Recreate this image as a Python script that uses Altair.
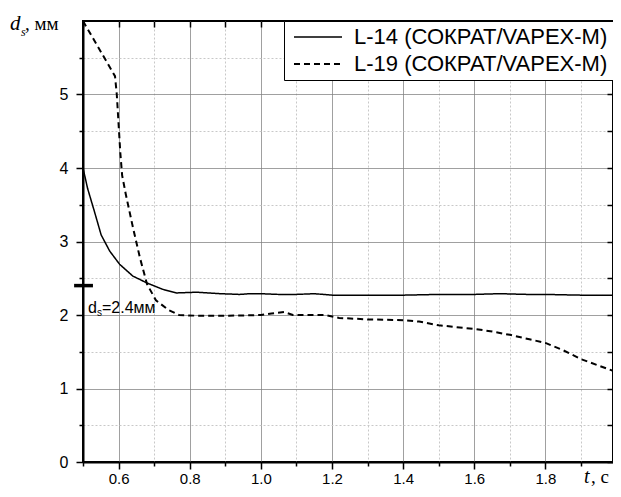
import altair as alt
import pandas as pd

# ---------------- data ----------------
series_names = ["L-14 (СОКРАТ/VAPEX-M)", "L-19 (СОКРАТ/VAPEX-M)"]

t_l14 = [0.5, 0.513, 0.532, 0.551, 0.575, 0.603, 0.64, 0.678, 0.724, 0.763,
         0.82, 0.885, 0.94, 0.97, 1.0, 1.05, 1.1, 1.15, 1.2, 1.3,
         1.4, 1.5, 1.6, 1.67, 1.75, 1.8, 1.9, 1.99]
ds_l14 = [4.0, 3.72, 3.41, 3.09, 2.87, 2.69, 2.53, 2.44, 2.35, 2.30,
          2.31, 2.29, 2.28, 2.29, 2.29, 2.28, 2.28, 2.29, 2.27, 2.27,
          2.27, 2.28, 2.28, 2.29, 2.28, 2.28, 2.27, 2.27]

t_l19 = [0.5, 0.59, 0.595, 0.6, 0.605, 0.61, 0.62, 0.64, 0.66, 0.68,
         0.705, 0.74, 0.77, 0.82, 0.91, 1.0, 1.03, 1.065, 1.09, 1.18,
         1.22, 1.3, 1.4, 1.445, 1.5, 1.6, 1.645, 1.7, 1.755, 1.8,
         1.85, 1.9, 1.99]
ds_l19 = [6.0, 5.25, 5.0, 4.6, 4.2, 3.9, 3.65, 3.2, 2.78, 2.42,
          2.2, 2.07, 2.0, 1.99, 1.99, 2.0, 2.02, 2.04, 2.0, 2.0,
          1.96, 1.94, 1.93, 1.91, 1.86, 1.81, 1.78, 1.73, 1.67, 1.62,
          1.52, 1.40, 1.24]

x_ticks = [0.5, 0.6, 0.7, 0.8, 0.9, 1.0, 1.1, 1.2, 1.3, 1.4, 1.5, 1.6, 1.7, 1.8, 1.9]
y_ticks = [0, 0.5, 1, 1.5, 2, 2.5, 3, 3.5, 4, 4.5, 5, 5.5]
x_domain = [0.5, 1.99]
y_domain = [0, 6]

marker_ds = [2.4]
marker_t_from = [0.475]
marker_t_to = [0.528]
marker_label_t = [0.514]
marker_label_ds = [2.1]

# ---------------- tables ----------------
df = pd.DataFrame({
    "t": t_l14 + t_l19,
    "ds": ds_l14 + ds_l19,
    "series": [series_names[0]] * len(t_l14) + [series_names[1]] * len(t_l19),
})
marker_df = pd.DataFrame({"t0": marker_t_from, "t1": marker_t_to, "ds": marker_ds})
label_df = pd.DataFrame({"t": marker_label_t, "ds": marker_label_ds})

x_scale = alt.Scale(domain=x_domain, nice=False, zero=False)
y_scale = alt.Scale(domain=y_domain, nice=False, zero=False)

x_major = "round(datum.value*10) % 2 == 0"
y_major = "datum.value == round(datum.value)"


def cond(test, a, b):
    return {"condition": {"test": test, "value": a}, "value": b}


x_axis = alt.Axis(
    orient="bottom", values=x_ticks, title=None,
    labelExpr=f"({x_major}) ? format(datum.value, '.1f') : ''",
    labelOverlap=False, labelFlush=False, labelPadding=2,
    labelFontSize=15,
    tickSize=cond(x_major, 7, 4),
    gridColor=cond(x_major, "#808080", "#c8c8c8"),
    gridDash=cond(x_major, [1, 0], [2, 2]),
    gridWidth=1,
)
y_axis = alt.Axis(
    orient="left", values=y_ticks, title=None,
    labelExpr=f"({y_major}) ? format(datum.value, 'd') : ''",
    labelOverlap=False, labelFlush=False, labelPadding=8,
    tickSize=cond(y_major, 7, 4),
    gridColor=cond(y_major, "#808080", "#c8c8c8"),
    gridDash=cond(y_major, [1, 0], [2, 2]),
    gridWidth=1,
)

lines = alt.Chart(df).mark_line(color="black").encode(
    x=alt.X("t:Q", scale=x_scale, axis=x_axis),
    y=alt.Y("ds:Q", scale=y_scale, axis=y_axis),
    strokeDash=alt.StrokeDash(
        "series:N",
        scale=alt.Scale(domain=series_names, range=[[1, 0], [6, 4]]),
        legend=alt.Legend(
            title=None, orient="top-right", offset=0,
            strokeColor="black", fillColor="white", padding=5,
            rowPadding=5, labelFontSize=22, labelFont="Liberation Sans",
            labelColor="black", labelLimit=500, labelOffset=43,
            symbolType="M-1,0H7", symbolSize=144,
            symbolStrokeWidth=1.5, symbolStrokeColor="black",
        ),
    ),
    strokeWidth=alt.StrokeWidth(
        "series:N", scale=alt.Scale(domain=series_names, range=[1.5, 2.0]), legend=None
    ),
)

# top/right mirrored axes with inward ticks
mirror = alt.Chart(df).mark_point(opacity=0).encode(
    x=alt.X("t:Q", scale=x_scale, axis=alt.Axis(
        orient="top", values=x_ticks, labels=False, grid=False, domain=False,
        tickSize=6, offset=-6, title=None)),
    y=alt.Y("ds:Q", scale=y_scale, axis=alt.Axis(
        orient="right", values=y_ticks, labels=False, grid=False, domain=False,
        tickSize=6, offset=-6, title=None)),
)

marker = alt.Chart(marker_df).mark_rule(color="black", strokeWidth=3.5).encode(
    x=alt.X("t0:Q", scale=x_scale, axis=None),
    x2="t1:Q",
    y=alt.Y("ds:Q", scale=y_scale, axis=None),
)


def ann_text(txt, size, dx, dy):
    return alt.Chart(label_df).mark_text(
        text=txt, font="Liberation Sans", fontSize=size, align="left",
        baseline="middle", color="black", dx=dx, dy=dy,
    ).encode(
        x=alt.X("t:Q", scale=x_scale, axis=None),
        y=alt.Y("ds:Q", scale=y_scale, axis=None),
    )


ann_d = ann_text("d", 16, 0, 0)
ann_s = ann_text("s", 10, 9, 5)
ann_rest = ann_text("=2.4мм", 16, 14, 0)


def pixel_text(txt, x, y, size, italic):
    return alt.Chart(pd.DataFrame({"s": [txt]})).mark_text(
        font="Liberation Serif", fontSize=size,
        fontStyle="italic" if italic else "normal",
        align="left", baseline="alphabetic", color="black",
    ).encode(x=alt.value(x), y=alt.value(y), text="s:N")


y_title = (pixel_text("d", -73, 9, 21, True)
           + pixel_text("s", -62, 15, 12, True)
           + pixel_text(", мм", -58, 9, 19, False))
x_title = (pixel_text("t", 501, 462, 20, True)
           + pixel_text(", с", 508, 462, 19, False))

chart = alt.layer(
    lines, mirror, marker, ann_d, ann_s, ann_rest, y_title, x_title
).resolve_axis(x="independent", y="independent").properties(
    width=530, height=441, autosize="none",
    padding={"left": 75, "top": 13, "right": 0, "bottom": 26},
    background="white",
).configure_view(
    stroke="black", strokeWidth=2
).configure_axis(
    domainColor="black", domainWidth=2, tickColor="black", tickWidth=1.5,
    labelColor="black", labelFont="Liberation Sans", labelFontSize=16,
)

chart.save("out.html", embed_options={"renderer": "svg", "actions": False})
